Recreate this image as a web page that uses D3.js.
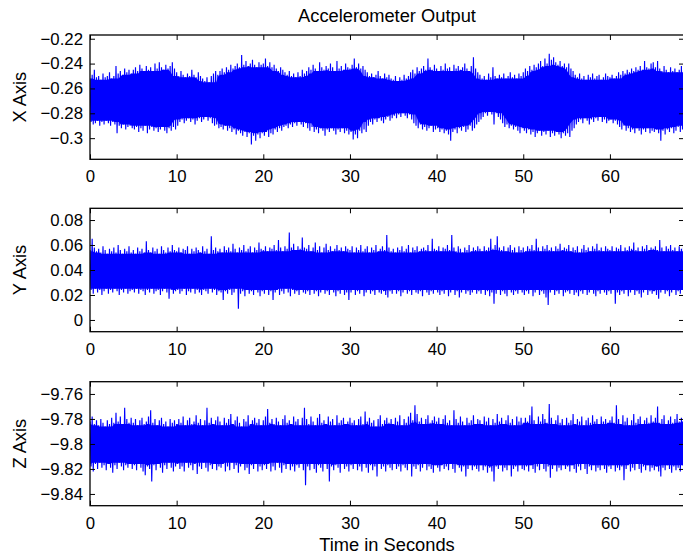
<!DOCTYPE html>
<html>
<head>
<meta charset="utf-8">
<script src="https://cdn.jsdelivr.net/npm/d3@7"></script>
<style>
  html, body { margin: 0; padding: 0; background: #fff; }
  svg { display: block; }
  text { font-family: "Liberation Sans", Arial, Helvetica, sans-serif; fill: #000; }
</style>
</head>
<body>
<svg id="chart" width="683" height="559"></svg>
<script>
// Accelerometer recording: per-window peak values (max / min) of each axis,
// one window every 0.25 s starting at t = 0.
const windowStep = 0.25;

const xHi = [
-.252,-.249,-.245,-.251,-.250,-.253,-.248,-.251,-.250,-.247,-.252,-.250,-.242,-.248,-.246,-.249,-.244,-.247,-.245,-.248,
-.245,-.243,-.246,-.241,-.244,-.246,-.242,-.245,-.243,-.246,-.240,-.244,-.239,-.243,-.245,-.241,-.244,-.242,-.239,-.244,
-.247,-.250,-.246,-.249,-.251,-.248,-.250,-.245,-.249,-.251,-.247,-.250,-.252,-.254,-.251,-.255,-.250,-.248,-.246,-.249,
-.246,-.244,-.247,-.243,-.245,-.241,-.244,-.242,-.240,-.243,-.233,-.241,-.238,-.242,-.240,-.237,-.241,-.243,-.239,-.241,
-.240,-.236,-.242,-.239,-.243,-.241,-.244,-.246,-.243,-.245,-.247,-.249,-.246,-.250,-.248,-.251,-.247,-.250,-.245,-.248,
-.246,-.243,-.245,-.241,-.244,-.246,-.239,-.243,-.245,-.242,-.244,-.240,-.243,-.246,-.238,-.244,-.242,-.245,-.240,-.243,
-.244,-.241,-.236,-.243,-.240,-.244,-.242,-.245,-.247,-.250,-.248,-.251,-.249,-.246,-.250,-.252,-.248,-.251,-.249,-.252,
-.253,-.250,-.254,-.251,-.253,-.249,-.252,-.250,-.247,-.245,-.248,-.243,-.246,-.244,-.242,-.245,-.236,-.243,-.245,-.241,
-.244,-.246,-.242,-.245,-.240,-.244,-.243,-.246,-.241,-.244,-.242,-.245,-.243,-.240,-.244,-.246,-.242,-.235,-.244,-.247,
-.249,-.252,-.250,-.253,-.248,-.251,-.243,-.250,-.252,-.249,-.251,-.248,-.252,-.250,-.247,-.251,-.249,-.252,-.248,-.250,
-.247,-.244,-.246,-.242,-.245,-.241,-.243,-.240,-.238,-.242,-.236,-.240,-.232,-.237,-.235,-.239,-.241,-.238,-.242,-.240,
-.243,-.240,-.244,-.246,-.249,-.251,-.248,-.252,-.250,-.253,-.249,-.251,-.248,-.252,-.250,-.249,-.253,-.251,-.248,-.250,
-.251,-.249,-.252,-.250,-.247,-.249,-.246,-.248,-.245,-.247,-.244,-.246,-.243,-.245,-.242,-.245,-.238,-.243,-.244,-.240,
-.239,-.243,-.238,-.244,-.246,-.242,-.245,-.247,-.243,-.246,-.244,-.247,-.245,-.242,-.245
];
const xLo = [
-.287,-.289,-.288,-.286,-.290,-.287,-.289,-.286,-.288,-.290,-.287,-.289,-.296,-.290,-.292,-.289,-.293,-.291,-.290,-.292,
-.293,-.291,-.295,-.292,-.294,-.290,-.296,-.293,-.291,-.294,-.292,-.295,-.293,-.291,-.294,-.296,-.292,-.294,-.291,-.293,
-.290,-.287,-.285,-.288,-.286,-.284,-.287,-.285,-.289,-.286,-.284,-.287,-.285,-.283,-.286,-.284,-.288,-.290,-.289,-.292,
-.291,-.293,-.290,-.294,-.292,-.295,-.293,-.297,-.294,-.296,-.298,-.295,-.299,-.296,-.305,-.298,-.302,-.297,-.300,-.296,
-.298,-.295,-.299,-.296,-.297,-.293,-.295,-.292,-.294,-.291,-.290,-.292,-.289,-.291,-.288,-.290,-.287,-.289,-.291,-.288,
-.292,-.294,-.291,-.295,-.293,-.296,-.292,-.294,-.298,-.293,-.295,-.292,-.294,-.297,-.293,-.295,-.292,-.296,-.294,-.297,
-.295,-.301,-.297,-.300,-.294,-.296,-.293,-.295,-.290,-.287,-.289,-.285,-.287,-.284,-.286,-.288,-.285,-.283,-.286,-.284,
-.282,-.284,-.281,-.283,-.280,-.282,-.284,-.281,-.285,-.288,-.290,-.292,-.289,-.293,-.291,-.294,-.292,-.290,-.295,-.293,
-.292,-.295,-.293,-.296,-.294,-.297,-.302,-.295,-.293,-.296,-.292,-.294,-.291,-.295,-.293,-.290,-.294,-.292,-.289,-.287,
-.285,-.283,-.280,-.282,-.279,-.281,-.289,-.280,-.283,-.285,-.288,-.291,-.289,-.292,-.290,-.293,-.291,-.294,-.296,-.292,
-.294,-.296,-.293,-.297,-.295,-.299,-.296,-.294,-.298,-.295,-.297,-.294,-.299,-.296,-.298,-.295,-.297,-.300,-.296,-.298,
-.296,-.299,-.294,-.292,-.289,-.287,-.285,-.288,-.284,-.286,-.289,-.285,-.287,-.284,-.286,-.283,-.287,-.285,-.288,-.286,
-.285,-.288,-.286,-.289,-.291,-.293,-.290,-.294,-.292,-.295,-.293,-.296,-.292,-.294,-.297,-.293,-.295,-.292,-.296,-.294,
-.295,-.293,-.296,-.302,-.294,-.297,-.293,-.295,-.292,-.296,-.294,-.291,-.295,-.293,-.290
];

const yHi = [
.056,.065,.058,.055,.057,.054,.059,.056,.053,.057,.055,.058,.054,.060,.056,.053,.057,.055,.059,.054,
.056,.053,.058,.055,.057,.054,.063,.056,.054,.058,.055,.057,.053,.059,.056,.054,.058,.055,.060,.056,
.055,.058,.054,.057,.056,.059,.053,.057,.055,.058,.056,.054,.059,.055,.057,.053,.067,.056,.058,.055,
.057,.054,.059,.056,.058,.055,.061,.057,.054,.058,.056,.060,.055,.057,.059,.054,.058,.056,.062,.057,
.056,.059,.055,.058,.057,.060,.056,.064,.058,.055,.059,.057,.070,.058,.061,.056,.059,.057,.066,.058,
.057,.060,.055,.058,.062,.056,.059,.054,.058,.061,.056,.059,.055,.057,.060,.056,.058,.055,.059,.057,
.056,.059,.054,.058,.056,.060,.055,.057,.059,.054,.058,.056,.060,.055,.057,.059,.056,.068,.058,.055,
.057,.054,.058,.056,.059,.055,.057,.060,.054,.058,.056,.059,.055,.057,.058,.056,.060,.055,.065,.057,
.056,.059,.055,.058,.057,.060,.056,.068,.058,.055,.059,.057,.054,.058,.056,.060,.055,.058,.056,.059,
.057,.055,.059,.056,.058,.065,.057,.060,.067,.058,.056,.059,.055,.058,.060,.056,.058,.054,.059,.056,
.058,.055,.059,.057,.060,.056,.065,.058,.055,.059,.057,.060,.056,.058,.055,.059,.057,.061,.056,.058,
.057,.060,.055,.058,.056,.059,.054,.057,.060,.056,.058,.055,.059,.057,.061,.056,.058,.055,.059,.057,
.056,.059,.055,.058,.057,.060,.055,.058,.056,.059,.057,.062,.056,.058,.055,.059,.057,.060,.056,.058,
.057,.059,.056,.064,.058,.055,.059,.057,.060,.056,.058,.055,.059,.057,.060
];
const yLo = [
.024,.021,.025,.022,.024,.020,.023,.025,.021,.024,.022,.025,.023,.020,.024,.022,.025,.021,.023,.024,
.022,.025,.021,.024,.023,.020,.024,.022,.025,.021,.023,.024,.020,.023,.025,.022,.017,.024,.021,.023,
.024,.021,.023,.025,.020,.023,.022,.025,.021,.024,.022,.020,.024,.023,.021,.025,.022,.024,.020,.023,
.022,.016,.023,.021,.024,.020,.022,.025,.009,.021,.023,.019,.024,.021,.023,.020,.024,.022,.019,.023,
.021,.024,.020,.023,.016,.022,.024,.020,.023,.021,.025,.022,.019,.024,.021,.023,.020,.024,.022,.021,
.023,.020,.024,.021,.023,.019,.022,.024,.021,.023,.020,.024,.022,.019,.023,.021,.024,.020,.022,.016,
.022,.024,.020,.023,.021,.024,.019,.022,.024,.021,.023,.020,.024,.022,.021,.023,.020,.018,.023,.021,
.024,.021,.023,.019,.022,.024,.021,.023,.020,.024,.022,.021,.023,.019,.024,.022,.020,.023,.021,.024,
.022,.020,.023,.021,.024,.019,.022,.024,.020,.023,.018,.022,.024,.021,.023,.020,.022,.024,.021,.023,
.021,.024,.020,.023,.019,.022,.013,.021,.024,.020,.023,.021,.019,.024,.022,.020,.023,.021,.024,.022,
.020,.023,.021,.024,.019,.022,.024,.020,.023,.021,.018,.012,.022,.024,.020,.023,.021,.024,.019,.022,
.023,.021,.024,.020,.022,.019,.023,.021,.024,.020,.022,.024,.021,.019,.023,.021,.024,.022,.020,.023,
.021,.024,.013,.022,.020,.023,.021,.024,.019,.022,.024,.020,.023,.021,.018,.022,.024,.020,.023,.021,
.023,.020,.017,.022,.024,.021,.023,.019,.022,.024,.020,.023,.021,.024,.022
];

const zHi = [
-9.782,-9.778,-9.784,-9.781,-9.785,-9.780,-9.783,-9.786,-9.781,-9.784,-9.779,-9.783,-9.775,-9.782,-9.778,-9.784,-9.771,-9.780,-9.783,-9.779,
-9.783,-9.780,-9.785,-9.781,-9.779,-9.784,-9.782,-9.778,-9.773,-9.783,-9.780,-9.785,-9.781,-9.779,-9.784,-9.782,-9.786,-9.780,-9.783,-9.781,
-9.784,-9.780,-9.783,-9.778,-9.785,-9.781,-9.779,-9.784,-9.782,-9.777,-9.783,-9.780,-9.785,-9.781,-9.771,-9.783,-9.779,-9.784,-9.781,-9.778,
-9.782,-9.785,-9.779,-9.783,-9.780,-9.776,-9.784,-9.781,-9.778,-9.783,-9.786,-9.780,-9.782,-9.777,-9.784,-9.781,-9.779,-9.783,-9.780,-9.785,
-9.781,-9.778,-9.772,-9.783,-9.780,-9.784,-9.779,-9.782,-9.785,-9.780,-9.777,-9.783,-9.781,-9.784,-9.778,-9.782,-9.780,-9.785,-9.779,-9.771,
-9.780,-9.784,-9.778,-9.782,-9.785,-9.779,-9.776,-9.783,-9.781,-9.784,-9.778,-9.782,-9.780,-9.785,-9.777,-9.783,-9.781,-9.779,-9.784,-9.782,
-9.779,-9.783,-9.781,-9.785,-9.780,-9.778,-9.784,-9.774,-9.782,-9.779,-9.783,-9.781,-9.786,-9.780,-9.777,-9.784,-9.781,-9.779,-9.783,-9.780,
-9.784,-9.779,-9.782,-9.777,-9.785,-9.780,-9.783,-9.778,-9.775,-9.781,-9.769,-9.776,-9.782,-9.779,-9.784,-9.780,-9.777,-9.783,-9.781,-9.778,
-9.782,-9.779,-9.784,-9.780,-9.777,-9.783,-9.781,-9.785,-9.773,-9.780,-9.783,-9.778,-9.782,-9.785,-9.779,-9.783,-9.781,-9.777,-9.784,-9.780,
-9.781,-9.784,-9.778,-9.782,-9.779,-9.785,-9.780,-9.783,-9.776,-9.782,-9.779,-9.784,-9.781,-9.777,-9.783,-9.780,-9.785,-9.778,-9.782,-9.779,
-9.783,-9.779,-9.782,-9.777,-9.770,-9.781,-9.784,-9.778,-9.782,-9.776,-9.780,-9.783,-9.768,-9.779,-9.784,-9.781,-9.777,-9.783,-9.780,-9.785,
-9.779,-9.783,-9.781,-9.776,-9.784,-9.780,-9.782,-9.778,-9.785,-9.781,-9.779,-9.783,-9.777,-9.782,-9.780,-9.784,-9.778,-9.782,-9.780,-9.783,
-9.781,-9.778,-9.783,-9.769,-9.780,-9.784,-9.777,-9.782,-9.779,-9.785,-9.781,-9.776,-9.783,-9.780,-9.778,-9.784,-9.781,-9.779,-9.783,-9.777,
-9.782,-9.779,-9.770,-9.783,-9.780,-9.777,-9.784,-9.781,-9.778,-9.783,-9.780,-9.776,-9.782,-9.779,-9.781
];
const zLo = [
-9.818,-9.822,-9.816,-9.820,-9.815,-9.819,-9.817,-9.821,-9.816,-9.819,-9.823,-9.817,-9.820,-9.815,-9.818,-9.821,-9.817,-9.819,-9.816,-9.820,
-9.817,-9.821,-9.816,-9.819,-9.822,-9.825,-9.818,-9.820,-9.830,-9.817,-9.821,-9.816,-9.819,-9.823,-9.817,-9.820,-9.815,-9.819,-9.822,-9.818,
-9.816,-9.820,-9.818,-9.822,-9.815,-9.819,-9.817,-9.821,-9.816,-9.824,-9.818,-9.820,-9.815,-9.819,-9.822,-9.817,-9.820,-9.816,-9.821,-9.818,
-9.819,-9.816,-9.822,-9.818,-9.821,-9.815,-9.820,-9.817,-9.823,-9.818,-9.816,-9.821,-9.819,-9.824,-9.817,-9.820,-9.816,-9.822,-9.818,-9.821,
-9.817,-9.820,-9.816,-9.822,-9.818,-9.821,-9.815,-9.819,-9.823,-9.817,-9.820,-9.816,-9.821,-9.818,-9.822,-9.817,-9.819,-9.816,-9.821,-9.833,
-9.818,-9.821,-9.816,-9.820,-9.823,-9.817,-9.819,-9.822,-9.816,-9.820,-9.830,-9.818,-9.821,-9.817,-9.819,-9.823,-9.816,-9.820,-9.818,-9.822,
-9.817,-9.820,-9.816,-9.821,-9.818,-9.822,-9.816,-9.819,-9.823,-9.817,-9.821,-9.818,-9.826,-9.816,-9.820,-9.818,-9.822,-9.817,-9.819,-9.821,
-9.816,-9.820,-9.818,-9.822,-9.817,-9.819,-9.821,-9.816,-9.826,-9.818,-9.820,-9.817,-9.822,-9.819,-9.816,-9.821,-9.818,-9.820,-9.823,-9.817,
-9.819,-9.822,-9.817,-9.820,-9.818,-9.821,-9.816,-9.820,-9.823,-9.817,-9.819,-9.822,-9.818,-9.826,-9.820,-9.817,-9.821,-9.818,-9.820,-9.822,
-9.817,-9.821,-9.818,-9.823,-9.819,-9.822,-9.830,-9.818,-9.820,-9.817,-9.822,-9.819,-9.821,-9.817,-9.826,-9.820,-9.818,-9.822,-9.817,-9.820,
-9.821,-9.818,-9.822,-9.817,-9.820,-9.823,-9.818,-9.821,-9.816,-9.820,-9.822,-9.818,-9.827,-9.820,-9.817,-9.822,-9.819,-9.821,-9.817,-9.820,
-9.818,-9.822,-9.817,-9.820,-9.823,-9.818,-9.821,-9.816,-9.820,-9.824,-9.818,-9.821,-9.817,-9.822,-9.819,-9.821,-9.817,-9.820,-9.823,-9.818,
-9.820,-9.817,-9.822,-9.819,-9.821,-9.818,-9.829,-9.820,-9.817,-9.822,-9.819,-9.821,-9.816,-9.820,-9.823,-9.818,-9.821,-9.817,-9.822,-9.819,
-9.821,-9.818,-9.822,-9.826,-9.819,-9.821,-9.817,-9.820,-9.823,-9.818,-9.821,-9.819,-9.822,-9.817,-9.820
];

// Axis ticks and their labels
const timeTicks = [0, 10, 20, 30, 40, 50, 60];
const timeTickLabels = ["0", "10", "20", "30", "40", "50", "60"];
const xAxisTicks = [-0.22, -0.24, -0.26, -0.28, -0.3];
const xAxisTickLabels = ["\u22120.22", "\u22120.24", "\u22120.26", "\u22120.28", "\u22120.3"];
const yAxisTicks = [0.08, 0.06, 0.04, 0.02, 0];
const yAxisTickLabels = ["0.08", "0.06", "0.04", "0.02", "0"];
const zAxisTicks = [-9.76, -9.78, -9.8, -9.82, -9.84];
const zAxisTickLabels = ["\u22129.76", "\u22129.78", "\u22129.8", "\u22129.82", "\u22129.84"];

const titleText = "Accelerometer Output";
const timeLabel = "Time in Seconds";

// ---- layout ----
const svg = d3.select("#chart");
const plotLeft = 90, plotRight = 684;
const TICK_FONT = 16.8;
const LABEL_FONT = 18.3;
const TICK = 5;
const BLUE = "#0000ff";

svg.append("rect").attr("width", 683).attr("height", 559).attr("fill", "#fff");

const x = d3.scaleLinear().domain([0, 68.55]).range([plotLeft, plotRight]);

const panels = [
  { name: "X Axis", hi: xHi, lo: xLo, top: 35,    bottom: 159.3, domain: [-0.317, -0.217], ticks: xAxisTicks, labels: xAxisTickLabels },
  { name: "Y Axis", hi: yHi, lo: yLo, top: 208.3, bottom: 331.7, domain: [-0.0094, 0.0894], ticks: yAxisTicks, labels: yAxisTickLabels },
  { name: "Z Axis", hi: zHi, lo: zLo, top: 381.7, bottom: 505.7, domain: [-9.8494, -9.7502], ticks: zAxisTicks, labels: zAxisTickLabels }
];

panels.forEach((p, k) => {
  const y = d3.scaleLinear().domain(p.domain).range([p.bottom, p.top]);
  const g = svg.append("g");

  const clipId = "clip" + k;
  svg.append("clipPath").attr("id", clipId)
    .append("rect")
    .attr("x", plotLeft).attr("y", p.top)
    .attr("width", plotRight - plotLeft).attr("height", p.bottom - p.top);

  const n = Math.min(p.hi.length, p.lo.length);
  const plot = g.append("g").attr("clip-path", `url(#${clipId})`);

  // dense middle of the trace: the range every window in a short neighbourhood covers
  const band = d3.range(n).map(i => {
    const a = Math.max(0, i - 3), b = Math.min(n, i + 4);
    return {
      t: i * windowStep + windowStep / 4,
      top: d3.min(p.hi.slice(a, b)),
      bot: d3.max(p.lo.slice(a, b))
    };
  });
  plot.append("path")
    .attr("d", d3.area().x(d => x(d.t)).y0(d => y(d.bot)).y1(d => y(d.top))(band))
    .attr("fill", BLUE);

  // trace: alternate between each window's maximum and minimum
  const pts = [];
  for (let i = 0; i < n; i++) {
    const t = i * windowStep;
    pts.push([t, p.hi[i]]);
    pts.push([t + windowStep / 2, p.lo[i]]);
  }
  plot.append("path")
    .attr("d", d3.line().x(d => x(d[0])).y(d => y(d[1]))(pts))
    .attr("fill", "none")
    .attr("stroke", BLUE)
    .attr("stroke-width", 1.15)
    .attr("stroke-linejoin", "bevel");

  // axes with inward ticks on all four sides
  const bottomAxis = d3.axisBottom(x).tickValues(timeTicks)
    .tickFormat((d, i) => timeTickLabels[i]).tickSizeInner(-TICK).tickSizeOuter(0).tickPadding(11);
  const topAxis = d3.axisTop(x).tickValues(timeTicks).tickFormat("").tickSizeInner(-TICK).tickSizeOuter(0);
  const leftAxis = d3.axisLeft(y).tickValues(p.ticks)
    .tickFormat((d, i) => p.labels[i]).tickSizeInner(-TICK).tickSizeOuter(0).tickPadding(7);
  const rightAxis = d3.axisRight(y).tickValues(p.ticks).tickFormat("").tickSizeInner(-TICK).tickSizeOuter(0);

  const axes = [
    g.append("g").attr("transform", `translate(0,${p.bottom})`).call(bottomAxis),
    g.append("g").attr("transform", `translate(0,${p.top})`).call(topAxis),
    g.append("g").attr("transform", `translate(${plotLeft},0)`).call(leftAxis),
    g.append("g").attr("transform", `translate(${plotRight},0)`).call(rightAxis)
  ];
  axes.forEach(a => {
    a.select(".domain").remove();
    a.selectAll(".tick line").attr("stroke", "#000").attr("stroke-width", 1);
    a.selectAll(".tick text").attr("font-size", TICK_FONT).attr("fill", "#000")
      .attr("font-family", '"Liberation Sans", Arial, sans-serif');
  });

  // box
  g.append("rect")
    .attr("x", plotLeft).attr("y", p.top)
    .attr("width", plotRight - plotLeft).attr("height", p.bottom - p.top)
    .attr("fill", "none").attr("stroke", "#000").attr("stroke-width", 1.3);

  // y label
  g.append("text")
    .attr("transform", `translate(26,${(p.top + p.bottom) / 2}) rotate(-90)`)
    .attr("text-anchor", "middle")
    .attr("font-size", LABEL_FONT)
    .text(p.name);
});

svg.append("text")
  .attr("x", (plotLeft + plotRight) / 2).attr("y", 22)
  .attr("text-anchor", "middle").attr("font-size", LABEL_FONT)
  .text(titleText);

svg.append("text")
  .attr("x", (plotLeft + plotRight) / 2).attr("y", 551)
  .attr("text-anchor", "middle").attr("font-size", LABEL_FONT)
  .text(timeLabel);
</script>
</body>
</html>
